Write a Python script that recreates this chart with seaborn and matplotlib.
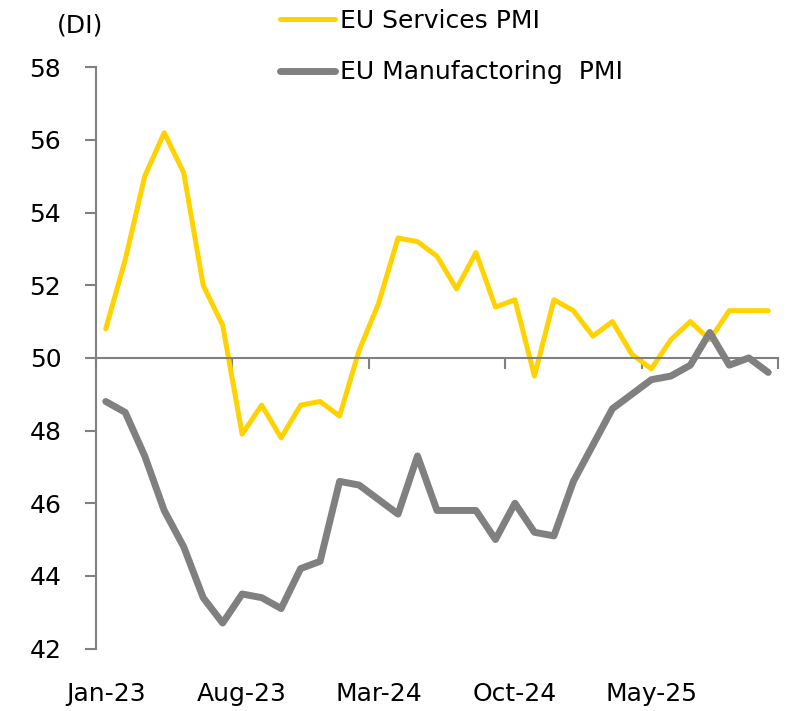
import numpy as np
import pandas as pd
import matplotlib
matplotlib.use("Agg")
import matplotlib.pyplot as plt
import seaborn as sns

#%% data (monthly, Jan-23 .. Nov-25)
months = pd.date_range("2023-01-01", periods=35, freq="MS").strftime("%b-%y").tolist()
services = [50.8, 52.7, 55.0, 56.2, 55.1, 52.0, 50.9, 47.9, 48.7, 47.8, 48.7, 48.8,
            48.4, 50.2, 51.5, 53.3, 53.2, 52.8, 51.9, 52.9, 51.4, 51.6, 49.5, 51.6,
            51.3, 50.6, 51.0, 50.1, 49.7, 50.5, 51.0, 50.5, 51.3, 51.3, 51.3]
manufacturing = [48.8, 48.5, 47.3, 45.8, 44.8, 43.4, 42.7, 43.5, 43.4, 43.1, 44.2, 44.4,
                 46.6, 46.5, 46.1, 45.7, 47.3, 45.8, 45.8, 45.8, 45.0, 46.0, 45.2, 45.1,
                 46.6, 47.6, 48.6, 49.0, 49.4, 49.5, 49.8, 50.7, 49.8, 50.0, 49.6]
y_ticks = [42, 44, 46, 48, 50, 52, 54, 56, 58]
label_step = 7

df = pd.DataFrame({"month": months, "idx": np.arange(len(months)),
                   "services": services, "manufacturing": manufacturing})

#%% style
sns.set_style("white")
plt.rcParams["font.family"] = ["DejaVu Sans"]
plt.rcParams["font.size"] = 18
plt.rcParams["text.color"] = "black"
plt.rcParams["xtick.color"] = "black"
plt.rcParams["ytick.color"] = "black"
grey = "#808080"
yellow = "#FFD200"

fig = plt.figure(figsize=(7.89, 7.11), dpi=100)
ax = fig.add_axes([96 / 789, 62.5 / 711, 682 / 789, 581.2 / 711])

sns.lineplot(data=df, x="idx", y="services", color=yellow, linewidth=3.6,
             label="EU Services PMI", ax=ax)
sns.lineplot(data=df, x="idx", y="manufacturing", color=grey, linewidth=5,
             label="EU Manufactoring  PMI", ax=ax)

#%% axes
n = len(months)
ax.set_xlim(-0.5, n - 0.5)
ax.set_ylim(42, 58)
ax.set_xlabel("")
ax.set_ylabel("")
for s in ["top", "right"]:
    ax.spines[s].set_visible(False)
for s in ["left", "bottom"]:
    ax.spines[s].set_color(grey)
    ax.spines[s].set_linewidth(1.5)
ax.spines["bottom"].set_position(("data", 50))

ax.set_yticks(y_ticks)
ax.tick_params(axis="y", left=True, length=8, width=1.5, color=grey,
               labelcolor="black", pad=17, labelsize=18)
# category boundary ticks on the 50 line
ax.set_xticks(np.arange(-0.5, n, label_step))
ax.tick_params(axis="x", bottom=True, length=8, width=1.5, color=grey,
               labelbottom=False)

sec = ax.secondary_xaxis(0)
sec.set_xticks(df["idx"][::label_step], df["month"][::label_step])
sec.tick_params(length=0, pad=24, labelsize=18, labelcolor="black")
sec.spines["bottom"].set_visible(False)

fig.text(57 / 789, 1 - 26 / 711, "(DI)", ha="left", va="center", fontsize=18)

ax.legend(loc="upper left", bbox_to_anchor=(280 / 789, 1 - 9 / 711),
          bbox_transform=fig.transFigure, frameon=False, fontsize=18,
          handlelength=2.2, handletextpad=0.2, labelspacing=1.1,
          borderpad=0, borderaxespad=0, labelcolor="black")

fig.savefig("out.png", dpi=100, facecolor="white")
